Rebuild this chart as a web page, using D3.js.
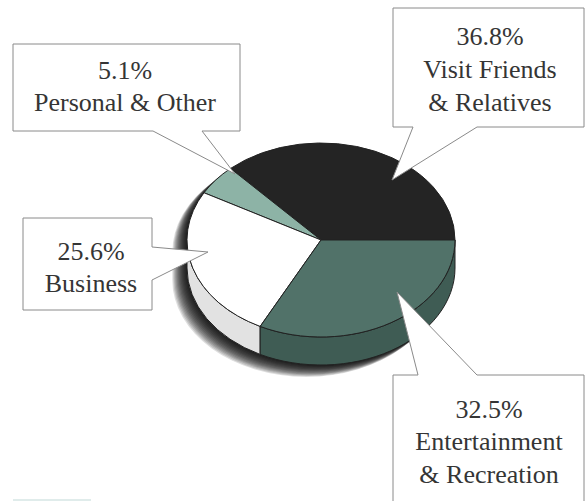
<!DOCTYPE html>
<html>
<head>
<meta charset="utf-8">
<script src="https://cdn.jsdelivr.net/npm/d3@7/dist/d3.min.js"></script>
</head>
<body style="margin:0">
<svg id="chart" width="585" height="501"></svg>
<script>
// Trip purpose shares, listed counter-clockwise from the 3 o'clock position
const categories = ["Visit Friends & Relatives", "Personal & Other", "Business", "Entertainment & Recreation"];
const values = [36.8, 5.1, 25.6, 32.5];
const nameLines = [["Visit Friends", "& Relatives"], ["Personal & Other"], ["Business"], ["Entertainment", "& Recreation"]];
const topColors = ["#242424", "#8db3a6", "#ffffff", "#517269"];
const sideColors = ["#1a1a1a", "#6f958a", "#e2e2e2", "#3f5c54"];

// Tilted disc geometry
const disc = { cx: 321, cy: 240, rx: 134, ry: 97, depth: 28 };

// Callout boxes: [x0, y0, x1, y1], pointer base along one edge, pointer tip
const callouts = [
  { box: [393, 8, 584, 127], edge: "bottom", a: 413, b: 477, tip: [392, 180], cx: 490, baselines: [45, 78, 111] },
  { box: [13, 44, 240, 131], edge: "bottom", a: 153, b: 202, tip: [235, 174], cx: 125, baselines: [79, 111] },
  { box: [23, 218, 152, 310], edge: "right", a: 247, b: 280, tip: [208, 252], cx: 91, baselines: [260, 292] },
  { box: [393, 375, 584, 520], edge: "top", a: 418, b: 477, tip: [397, 292], cx: 489, baselines: [418, 450, 483] }
];

const serifStack = 'Tinos, "Liberation Serif", "Times New Roman", serif';

const svg = d3.select("#chart");

// Angles from d3.pie, read as counter-clockwise parametric angles on the ellipse
const pie = d3.pie().sort(null).startAngle(0).endAngle(2 * Math.PI);
const arcs = pie(values);

const px = d3.scaleLinear().domain([-1, 1]).range([disc.cx - disc.rx, disc.cx + disc.rx]);
const py = d3.scaleLinear().domain([-1, 1]).range([disc.cy + disc.ry, disc.cy - disc.ry]);
const pt = (t, dy = 0) => [px(Math.cos(t)), py(Math.sin(t)) + dy];

function ellArc(t0, t1, dy, sweep) {
  const p = pt(t1, dy);
  const large = Math.abs(t1 - t0) > Math.PI ? 1 : 0;
  return `A${disc.rx},${disc.ry} 0 ${large} ${sweep} ${p[0]},${p[1]}`;
}

// Drop shadow: stacked, progressively offset copies of the disc silhouette
const L = pt(Math.PI), R = pt(0);
const silhouette = `M${L[0]},${L[1]} ${ellArc(Math.PI, 0, 0, 1)} L${R[0]},${R[1] + disc.depth} ` +
  `${ellArc(0, Math.PI, disc.depth, 1)} Z`;
d3.range(1, 15).forEach(k => {
  svg.append("path")
    .attr("d", silhouette)
    .attr("transform", `translate(${-1.05 * k},${0.85 * k})`)
    .attr("fill", "#000")
    .attr("fill-opacity", 0.13);
});

// Side walls for the front half of the disc
arcs.forEach((d, i) => {
  const t0 = Math.max(d.startAngle, Math.PI);
  const t1 = Math.min(d.endAngle, 2 * Math.PI);
  if (t1 <= t0) return;
  const a = pt(t0), b = pt(t1);
  const path = `M${a[0]},${a[1]} ${ellArc(t0, t1, 0, 0)} L${b[0]},${b[1] + disc.depth} ` +
    `${ellArc(t1, t0, disc.depth, 1)} Z`;
  svg.append("path").attr("d", path)
    .attr("fill", sideColors[i])
    .attr("stroke", "#222").attr("stroke-width", 1).attr("stroke-linejoin", "round");
});

// Top face slices
arcs.forEach((d, i) => {
  const a = pt(d.startAngle);
  const path = `M${disc.cx},${disc.cy} L${a[0]},${a[1]} ${ellArc(d.startAngle, d.endAngle, 0, 0)} Z`;
  svg.append("path").attr("d", path)
    .attr("fill", topColors[i])
    .attr("stroke", "#222").attr("stroke-width", 1).attr("stroke-linejoin", "round");
});

// Callout boxes with pointers
function calloutPoints(c) {
  const [x0, y0, x1, y1] = c.box;
  if (c.edge === "bottom") return [[x0, y0], [x1, y0], [x1, y1], [c.b, y1], c.tip, [c.a, y1], [x0, y1]];
  if (c.edge === "top") return [[x0, y0], [c.a, y0], c.tip, [c.b, y0], [x1, y0], [x1, y1], [x0, y1]];
  return [[x0, y0], [x1, y0], [x1, c.a], c.tip, [x1, c.b], [x1, y1], [x0, y1]];
}
callouts.forEach(c => {
  svg.append("path")
    .attr("d", d3.line()(calloutPoints(c)) + "Z")
    .attr("fill", "#fff")
    .attr("stroke", "#8a8a8a")
    .attr("stroke-width", 1);
});

// Callout text, each line centred on its box
const fmt = d3.format(".1f");
callouts.forEach((c, i) => {
  const lines = [fmt(values[i]) + "%"].concat(nameLines[i]);
  lines.forEach((txt, k) => {
    svg.append("text")
      .attr("x", c.cx)
      .attr("y", c.baselines[k])
      .attr("text-anchor", "middle")
      .attr("font-family", serifStack)
      .style("font-family", serifStack)
      .style("font-size", "26px")
      .style("fill", "#353535")
      .text(txt);
  });
});

// Faint rule at the lower left corner
svg.append("line")
  .attr("x1", 13).attr("x2", 91).attr("y1", 500).attr("y2", 500)
  .attr("stroke", "#d6e6e4").attr("stroke-width", 1.5);
</script>
</body>
</html>
